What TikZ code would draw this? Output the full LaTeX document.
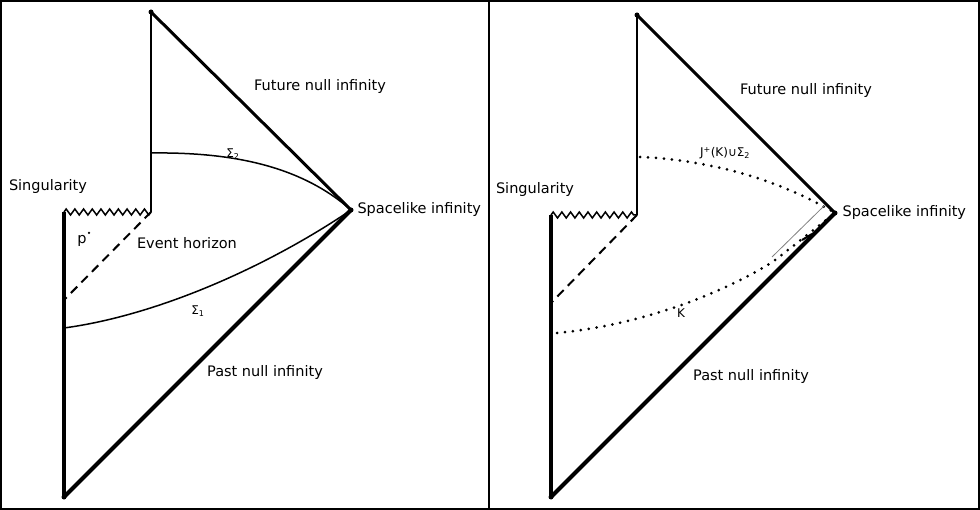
\documentclass[tikz,border=0pt]{standalone}
\usepackage{fontspec}
\setmainfont{DejaVu Sans}
\usetikzlibrary{decorations.pathmorphing}
\tikzset{
	nullinf/.style={line width=3pt},
	dickrand/.style={line width=4pt},
	duenn/.style={line width=1.5pt},
	horizont/.style={line width=2pt, dash pattern=on 9pt off 6pt},
	punktiert/.style={line width=3pt, line cap=round, dash pattern=on 0pt off 8pt},
	singul/.style={line width=1.5pt, decorate, decoration={zigzag, segment length=8.7pt, amplitude=3pt}},
	beschr/.style={font=\fontsize{14.5}{17}\selectfont},
	klein/.style={font=\fontsize{12}{14}\selectfont},
	pkt/.style={circle, fill, inner sep=0pt, minimum size=5pt}
}
\begin{document}
\begin{tikzpicture}[x=1pt, y=-1pt]
	\useasboundingbox (0,0) rectangle (980,510);
	% Rahmen
	\draw[line width=2pt] (1,1) rectangle (979,509);
	\draw[line width=2pt] (489,1) -- (489,509);

	% linkes Diagramm
	\coordinate (lt) at (151,12);
	\coordinate (lh) at (151,212);
	\coordinate (lc) at (64,212);
	\coordinate (lb) at (64,497);
	\coordinate (lspi) at (351,210);
	\coordinate (leh) at (64,300);
	\coordinate (lsz) at (151,153);
	\coordinate (lse) at (64,328);
	\draw[duenn] (lt) -- (lh);
	\draw[singul] (lc) -- (lh);
	\draw[dickrand] (lc) -- (lb);
	\draw[nullinf] (lt) -- (lspi);
	\draw[dickrand] (lb) -- (lspi);
	\draw[horizont] (lh) -- (leh);
	\draw[duenn] (lsz) .. controls (230,152) and (300,165) .. (lspi);
	\draw[duenn] (lse) .. controls (160,315) and (270,265) .. (lspi);
	\node[pkt] (ltp) at (lt) {};
	\node[pkt] (lbp) at (lb) {};
	\node[pkt] (lspip) at (lspi) {};
	\node[circle, fill, inner sep=0pt, minimum size=2.5pt] (lpp) at (89,233) {};
	\node[beschr] (lp) at (82,241) {p};
	\node[beschr] (lsing) at (48,187) {Singularity};
	\node[beschr] (lfni) at (320,87) {Future null infinity};
	\node[beschr, anchor=west] (lsi) at (354,210) {Spacelike infinity};
	\node[beschr] (lev) at (187,243) {Event horizon};
	\node[beschr] (lpni) at (265,373) {Past null infinity};
	\node[klein] (lszl) at (233,154) {Σ\textsubscript{2}};
	\node[klein] (lsel) at (198,311) {Σ\textsubscript{1}};

	% rechtes Diagramm
	\coordinate (rt) at (637,15);
	\coordinate (rh) at (637,215);
	\coordinate (rc) at (551,215);
	\coordinate (rb) at (551,497);
	\coordinate (rspi) at (835,213);
	\coordinate (reh) at (551,303);
	\coordinate (rj) at (640,157);
	\coordinate (rk) at (557,333);
	\coordinate (rke) at (774,261);
	\coordinate (rgu) at (772,257);
	\coordinate (rgo) at (824,206);
	\coordinate (rsu) at (802,240);
	\coordinate (rso) at (812,234);
	\draw[duenn] (rt) -- (rh);
	\draw[singul] (rc) -- (rh);
	\draw[dickrand] (rc) -- (rb);
	\draw[nullinf] (rt) -- (rspi);
	\draw[dickrand] (rb) -- (rspi);
	\draw[horizont] (rh) -- (reh);
	\draw[punktiert] (rj) .. controls (710,160) and (780,180) .. (rspi);
	\draw[punktiert] (rk) .. controls (640,325) and (720,295) .. (rke) -- (rspi);
	\draw[line width=0.8pt, gray] (rgu) -- (rgo);
	\draw[line width=2pt] (rsu) -- (rso);
	\node[pkt] (rtp) at (rt) {};
	\node[pkt] (rbp) at (rb) {};
	\node[pkt] (rspip) at (rspi) {};
	\node[beschr] (rsing) at (535,190) {Singularity};
	\node[beschr] (rfni) at (806,91) {Future null infinity};
	\node[beschr, anchor=west] (rsi) at (839,213) {Spacelike infinity};
	\node[beschr] (rpni) at (751,377) {Past null infinity};
	\node[klein] (rjl) at (725,153) {J\textsuperscript{+}(K)∪Σ\textsubscript{2}};
	\node[klein] (rkl) at (681,313) {K};
\end{tikzpicture}
\end{document}
